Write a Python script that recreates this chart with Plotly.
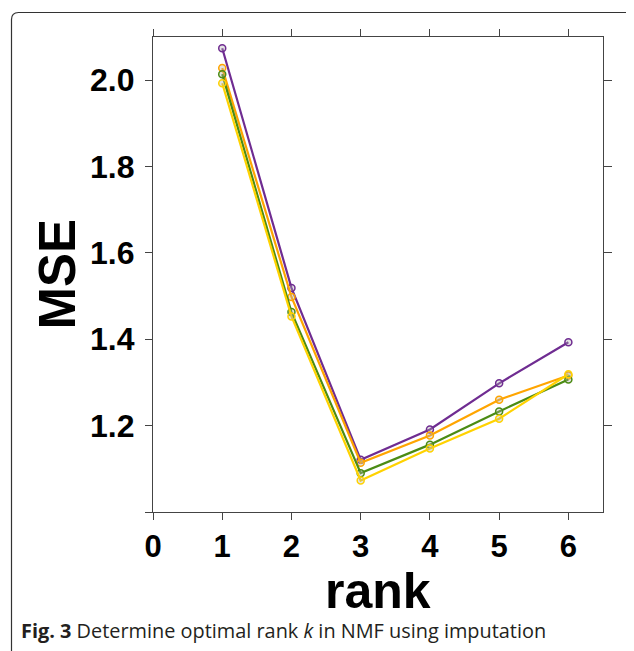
import plotly.graph_objects as go

ranks = [1, 2, 3, 4, 5, 6]
mse_purple = [2.074, 1.519, 1.121, 1.191, 1.298, 1.393]
mse_orange = [2.028, 1.498, 1.114, 1.177, 1.260, 1.316]
mse_green = [2.014, 1.463, 1.090, 1.156, 1.233, 1.307]
mse_yellow = [1.993, 1.453, 1.073, 1.147, 1.216, 1.319]

series_names = ["purple", "orange", "green", "yellow"]
series_colors = ["#6F2C91", "#FFA500", "#4B8B14", "#FFD200"]
series_values = [mse_purple, mse_orange, mse_green, mse_yellow]

x_tickvals = [0, 1, 2, 3, 4, 5, 6]
y_tickvals = [1.0, 1.2, 1.4, 1.6, 1.8, 2.0]
y_ticktext = ["", "1.2", "1.4", "1.6", "1.8", "2.0"]
right_tickvals = [1.2, 1.4, 1.6, 1.8, 2.0]

W, H = 634, 651
OFF = 8  # page body margin
# target plot area in screen pixels: x 153..603, y 37..512
L = 153 - OFF
T = 37 - OFF
R = W - (603 - OFF)
B = H - (512 - OFF)
PW, PH = W - L - R, H - T - B


def px(x):
    return (x - OFF - L) / PW


def py(y):
    return (H - B - (y - OFF)) / PH


fig = go.Figure()
for name, col, vals in zip(series_names, series_colors, series_values):
    fig.add_trace(go.Scatter(
        x=ranks, y=vals, mode="lines+markers", name=name,
        line=dict(color=col, width=2.2),
        marker=dict(symbol="circle", size=7, color="rgba(175,175,175,0.35)",
                    line=dict(color=col, width=1.5)),
        showlegend=False,
    ))

# empty trace to create right-side axis
fig.add_trace(go.Scatter(x=[], y=[], yaxis="y2", showlegend=False))

axis_col = "#444444"
tick_font = dict(family="Liberation Sans", size=32, color="black", weight="bold")
fig.update_layout(
    width=W, height=H,
    margin=dict(l=L, r=R, t=T, b=B),
    paper_bgcolor="white", plot_bgcolor="white",
    xaxis=dict(
        range=[0, 6.5], tickvals=x_tickvals, ticks="outside", ticklen=7,
        tickcolor=axis_col, tickwidth=1.3, showline=True, linecolor=axis_col,
        linewidth=1.3, mirror="ticks", showgrid=False, zeroline=False,
        tickfont=dict(family="Liberation Sans", size=31, color="black", weight="bold"),
        ticklabelstandoff=0,
    ),
    yaxis=dict(
        range=[1.0, 2.1], tickvals=y_tickvals, ticktext=y_ticktext,
        ticks="outside", ticklen=7, tickcolor=axis_col, tickwidth=1.3,
        showline=True, linecolor=axis_col, linewidth=1.3, showgrid=False,
        zeroline=False, ticklabelstandoff=4,
        tickfont=tick_font,
    ),
    yaxis2=dict(
        range=[1.0, 2.1], overlaying="y", side="right", anchor="x",
        tickvals=right_tickvals, showticklabels=False, ticks="outside",
        ticklen=8, tickcolor=axis_col, tickwidth=1.3, showline=True,
        linecolor=axis_col, linewidth=1.3, showgrid=False, zeroline=False,
    ),
)

fig.add_annotation(text="<b>rank</b>", xref="paper", yref="paper",
                   x=0.5, y=py(591), xanchor="center", yanchor="middle",
                   showarrow=False, height=50,
                   font=dict(family="Liberation Sans", size=50, color="black"))
fig.add_annotation(text="<b>MSE</b>", xref="paper", yref="paper",
                   x=px(57), y=0.5, xanchor="center", yanchor="middle",
                   textangle=-90, showarrow=False,
                   font=dict(family="Liberation Sans", size=51, color="black"))
fig.add_annotation(
    text="<b>Fig. 3</b> Determine optimal rank <i>k</i> in NMF using imputation",
    xref="paper", yref="paper", x=px(19), y=py(630), xanchor="left",
    yanchor="middle", showarrow=False,
    font=dict(family="Open Sans", size=19.9, color="#231F20"))

# rounded border frame
x0, y0 = px(11.5), py(12.5)
x1, y1 = px(680), py(700)
rx, ry = 7 / PW, 7 / PH
path = (f"M {x0},{y1} L {x0},{y0 - ry} Q {x0},{y0} {x0 + rx},{y0} "
        f"L {x1},{y0}")
fig.add_shape(type="path", path=path, xref="paper", yref="paper",
              line=dict(color="#333333", width=1.2), layer="below")

fig.write_html("out.html")
